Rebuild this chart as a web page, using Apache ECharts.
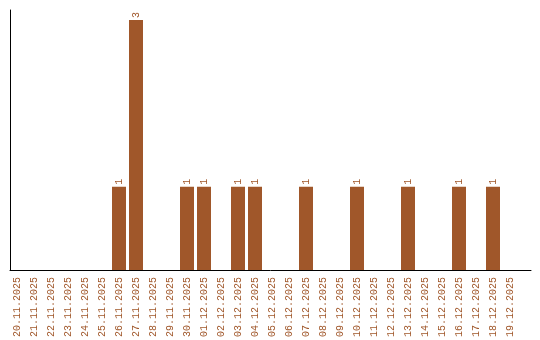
<!DOCTYPE html>
<html><head><meta charset="utf-8">
<script src="https://cdn.jsdelivr.net/npm/echarts@6/dist/echarts.min.js"></script>
<style>html,body{margin:0;padding:0;background:#fff}#c{width:540px;height:340px}</style>
</head><body><div id="c"></div>
<script>
const categories = ["20.11.2025","21.11.2025","22.11.2025","23.11.2025","24.11.2025","25.11.2025","26.11.2025","27.11.2025","28.11.2025","29.11.2025","30.11.2025","01.12.2025","02.12.2025","03.12.2025","04.12.2025","05.12.2025","06.12.2025","07.12.2025","08.12.2025","09.12.2025","10.12.2025","11.12.2025","12.12.2025","13.12.2025","14.12.2025","15.12.2025","16.12.2025","17.12.2025","18.12.2025","19.12.2025"];
const counts = [0,0,0,0,0,0,1,3,0,0,1,1,0,1,1,0,0,1,0,0,1,0,0,1,0,0,1,0,1,0];
const barColor = '#A0572A';
const chart = echarts.init(document.getElementById('c'), null, {renderer:'canvas'});
chart.setOption({
  animation:false,
  textStyle:{fontFamily:'Liberation Mono'},
  grid:[
    {left:8.5, width:510, top:10, height:260},
    {left:10, right:9, top:10, height:260}
  ],
  xAxis:[
    {type:'category', gridIndex:0, data:categories,
     axisLine:{show:false}, axisTick:{show:false},
     axisLabel:{rotate:90, interval:0, color:barColor, fontSize:10, fontFamily:'Liberation Mono', margin:7}},
    {type:'value', gridIndex:1, min:0, max:1, axisLine:{show:true, lineStyle:{color:'#000', width:1}},
     axisTick:{show:false}, axisLabel:{show:false}, splitLine:{show:false}}
  ],
  yAxis:[
    {type:'value', gridIndex:0, min:0, max:3.12, axisLine:{show:false}, axisTick:{show:false},
     axisLabel:{show:false}, splitLine:{show:false}},
    {type:'value', gridIndex:1, min:0, max:1, axisLine:{show:true, lineStyle:{color:'#000', width:1}},
     axisTick:{show:false}, axisLabel:{show:false}, splitLine:{show:false}}
  ],
  series:[{
    type:'bar', xAxisIndex:0, yAxisIndex:0, data:counts.map(v=>v===0?null:v),
    barWidth:14, itemStyle:{color:barColor},
    label:{show:true, position:'top', rotate:90, align:'left', verticalAlign:'middle', distance:2,
      color:barColor, fontSize:10, fontFamily:'Liberation Mono'}
  }]
});
</script></body></html>
